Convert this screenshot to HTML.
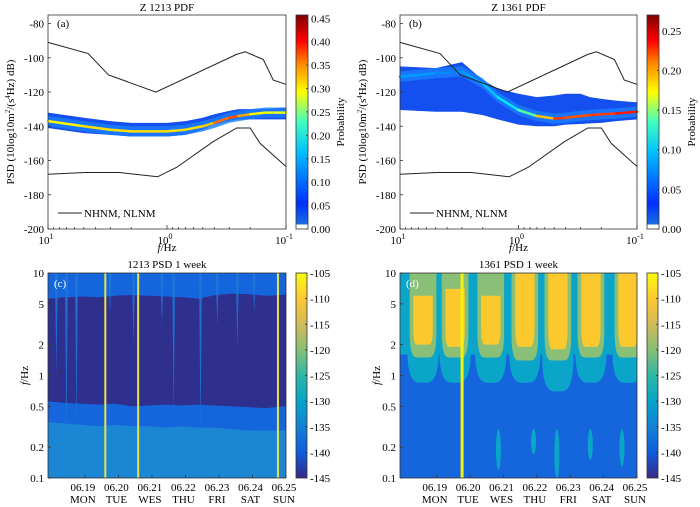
<!DOCTYPE html>
<html><head><meta charset="utf-8"><style>
html,body{margin:0;padding:0;background:#fff}
svg{display:block;font-family:"Liberation Serif",serif}
</style></head><body>
<svg id="fig" width="700" height="507" viewBox="0 0 700 507" xmlns="http://www.w3.org/2000/svg">
<defs>
<linearGradient id="jet" x1="0" y1="1" x2="0" y2="0">
<stop offset="0" stop-color="#ffffff"/><stop offset="0.02" stop-color="#ffffff"/><stop offset="0.021" stop-color="#1a6ee0"/>
<stop offset="0.12" stop-color="#0030ff"/><stop offset="0.36" stop-color="#00c0ff"/><stop offset="0.5" stop-color="#40ffbf"/>
<stop offset="0.64" stop-color="#ffff00"/><stop offset="0.78" stop-color="#ff8000"/><stop offset="0.88" stop-color="#ff0000"/><stop offset="1" stop-color="#800000"/>
</linearGradient>
<linearGradient id="parula" x1="0" y1="1" x2="0" y2="0">
<stop offset="0" stop-color="#352a87"/><stop offset="0.125" stop-color="#0f5cdd"/><stop offset="0.25" stop-color="#1481d6"/>
<stop offset="0.375" stop-color="#06a4ca"/><stop offset="0.5" stop-color="#2eb7a4"/><stop offset="0.625" stop-color="#87bf77"/>
<stop offset="0.75" stop-color="#d1bb59"/><stop offset="0.875" stop-color="#fec832"/><stop offset="1" stop-color="#f9fb0e"/>
</linearGradient>
</defs>
</svg>
<script>
// ---- data ----
const nhnmFreq = [10,4.6,3.1,1.24,0.26,0.22,0.155,0.128,0.1];
const nhnmDb   = [-91,-97.5,-110,-120,-98,-96.5,-101,-113,-115.5];
const nlnmFreq = [10,4.9,2.5,1.2,0.83,0.41,0.26,0.2,0.165,0.1];
const nlnmDb   = [-168,-167,-167,-169.5,-164,-149,-141,-141,-150,-163.5];
const pdfFreq  = [10,5,3,2,1.5,1,0.7,0.5,0.4,0.3,0.25,0.2,0.15,0.1];
const aTop  = [-132,-135,-137,-138,-138,-138,-137,-135,-133,-131,-130,-130,-130,-129];
const aBot  = [-141,-144,-145,-146,-146,-146,-145,-142,-139,-137,-136,-136,-136,-136];
const aMode = [-137,-140,-142,-143,-143,-143,-142,-140,-138,-135,-134,-133,-132,-132];
const aProb = [0.28,0.3,0.3,0.3,0.3,0.3,0.3,0.3,0.32,0.38,0.35,0.3,0.28,0.27];
const bTop  = [-105,-106,-102.5,-113,-118,-121,-123,-122,-121,-121,-123,-124,-125,-126];
const bBot  = [-130.5,-131.5,-131.5,-133.5,-136,-139,-140,-140,-139,-138.7,-138.3,-138,-137,-136];
const bMode = [-111,-109,-108,-115,-123,-130.5,-134,-135.5,-135,-134,-133.5,-133,-132.5,-131.5];
const bProb = [0.08,0.07,0.07,0.08,0.09,0.1,0.15,0.22,0.22,0.21,0.22,0.22,0.22,0.24];
const dayTicks = [19,20,21,22,23,24,25];
const dayLabels = ["06.19","06.20","06.21","06.22","06.23","06.24","06.25"];
const weekLabels = ["MON","TUE","WES","THU","FRI","SAT","SUN"];
const cTimes    = [17.9,18.4,18.9,19.4,19.9,20.4,20.9,21.4,21.9,22.4,22.9,23.4,23.9,24.4,24.9,25.0];
const cDarkTop  = [5.6,5.8,5.9,5.8,6.0,6.1,6.0,5.9,5.8,5.6,6.1,6.3,6.2,6.0,6.1,6.2];
const cDarkBot  = [0.56,0.54,0.53,0.52,0.53,0.50,0.51,0.52,0.51,0.52,0.51,0.50,0.49,0.48,0.50,0.50];
const cLightTop = [0.35,0.34,0.33,0.32,0.33,0.32,0.32,0.31,0.32,0.31,0.31,0.30,0.29,0.29,0.29,0.29];
const cLineTimes = [19.61,20.59,24.76];
const cSpikeTimes = [18.15,18.45,18.75,19.75,20.45,21.3,21.65,22.45,22.95,23.55,24.05];
const cSpikeBot   = [1.0,0.2,0.3,4,2,3,0.4,0.25,3,1.8,4];
const dCenters   = [18.59,19.55,20.62,21.64,22.63,23.62,24.73];
const dYellowTop = [6,7,6,10,10,10,10];
const dYellowBot = [2.0,1.9,2.0,1.9,1.8,1.9,1.9];
const dGreenBot  = [1.5,1.5,1.5,1.4,1.4,1.5,1.5];
const dCyanBot   = [0.85,0.85,0.85,0.85,0.7,0.85,0.85];
const dLineTimes = [19.76];
const dSpotTimes = [20.85,21.9,22.6,23.6,24.55];
const dSpotBot   = [0.12,0.17,0.1,0.15,0.13];

const svg = document.getElementById('fig');
const NS = 'http://www.w3.org/2000/svg';
function mk(tag, attrs, parent){
  const e = document.createElementNS(NS, tag);
  for (const k in attrs) e.setAttribute(k, attrs[k]);
  (parent||svg).appendChild(e); return e;
}
function txt(s, x, y, size, anchor, parent, extra){
  const e = mk('text', Object.assign({x:x, y:y, 'font-size':size, 'text-anchor':anchor||'middle', fill:'#000'}, extra||{}), parent);
  e.textContent = s; return e;
}

// ---- PDF panels ----
function pdfPanel(L, R, title, tag, top, bot, mode, prob, cmax, cticks, idp){
  const T=15, B=229;
  const g = mk('g', {});
  
  
  const X = f => L + (1 - Math.log10(f)) / 2 * (R - L);
  const Y = db => T + (-75 - db) / 125 * (B - T);
  const jet = v => { const t = Math.max(0, Math.min(1, v / cmax));
    const r = Math.max(0, Math.min(1, 1.5 - Math.abs(4*t - 3))), gg = Math.max(0, Math.min(1, 1.5 - Math.abs(4*t - 2))), b = Math.max(0, Math.min(1, 1.5 - Math.abs(4*t - 1)));
    return `rgb(${Math.round(r*255)},${Math.round(gg*255)},${Math.round(b*255)})`; };
  let p = pdfFreq.map((f,i)=>`${X(f)},${Y(top[i])}`).concat(pdfFreq.slice().reverse().map((f,j)=>{const i=pdfFreq.length-1-j; return `${X(f)},${Y(bot[i])}`;}));
  const band = mk('polygon', {points:p.join(' '), fill:'#1450f0'}, g);
  
  
  const mid = pdfFreq.map((f,i)=>`${X(f)},${Y(mode[i]-3)}`).concat(pdfFreq.slice().reverse().map((f,j)=>{const i=pdfFreq.length-1-j; return `${X(f)},${Y(mode[i]+3)}`;}));
  const m = mk('polygon', {points:mid.join(' '), fill:'#1a80ff', opacity:0.8}, g);
  
  
  for (let i=0;i<pdfFreq.length-1;i++){
    const s = mk('line', {x1:X(pdfFreq[i]), y1:Y(mode[i]), x2:X(pdfFreq[i+1]), y2:Y(mode[i+1]), stroke:jet((prob[i]+prob[i+1])/2), 'stroke-width':2.5, 'stroke-linecap':'round'}, g);
    
    
  }
  const hn = mk('polyline', {points:nhnmFreq.map((f,i)=>`${X(f)},${Y(nhnmDb[i])}`).join(' '), fill:'none', stroke:'#222', 'stroke-width':1}, g);
  
  
  const ln = mk('polyline', {points:nlnmFreq.map((f,i)=>`${X(f)},${Y(nlnmDb[i])}`).join(' '), fill:'none', stroke:'#222', 'stroke-width':1}, g);
  
  
  const fr = mk('rect', {x:L, y:T, width:R-L, height:B-T, fill:'none', stroke:'#333', 'stroke-width':0.8}, g);
  
  
  for (let v=-80; v>=-200; v-=20){
    mk('line',{x1:L,y1:Y(v),x2:L+3,y2:Y(v),stroke:'#333','stroke-width':0.8},g);
    const t = txt(String(v), L-4, Y(v)+4, 11, 'end', g);
    
    
  }
  for (let d=1; d>=-1; d--){
    for (let k=1;k<10;k++){ const fx = X(k*Math.pow(10,d)); if (d===1 && k>1) continue; if (fx<L-0.1||fx>R+0.1) continue;
      mk('line',{x1:fx,y1:B,x2:fx,y2:B-(k===1?4:2),stroke:'#333','stroke-width':0.8},g); }
  }
  [[1,L],[0,(L+R)/2],[-1,R]].forEach(([e,x])=>{
    const t = mk('text',{x:x-2,y:244,'font-size':11,'text-anchor':'middle'},g);
    t.innerHTML = `10<tspan font-size="8" dy="-5">${e}</tspan>`;
    
    
  });
  const xl = mk('text',{x:(L+R)/2,y:251,'font-size':11,'text-anchor':'middle'},g);
  xl.innerHTML = '<tspan font-style="italic">f</tspan>/Hz';
  
  
  const yl = mk('text',{x:0,y:0,'font-size':11,'text-anchor':'middle',transform:`translate(${L-34},122) rotate(-90)`},g);
  yl.innerHTML = 'PSD (10log10m<tspan font-size="7" dy="-4">2</tspan><tspan dy="4">/(s</tspan><tspan font-size="7" dy="-4">4</tspan><tspan dy="4">Hz) dB)</tspan>';
  
  
  const ti = txt(title, (L+R)/2, 11, 11, 'middle', g, {'xml:space':'preserve'});
  
  
  const tg = txt(tag, L+9, 27, 11, 'start', g);
  
  
  mk('line',{x1:L+10,y1:213,x2:L+34,y2:213,stroke:'#222','stroke-width':1},g);
  const lg = txt('NHNM, NLNM', L+36, 217, 11, 'start', g);
  
  
  const cx = R+10, cw = 12;
  const cb = mk('rect',{x:cx,y:T,width:cw,height:B-T,fill:'url(#jet)',stroke:'#333','stroke-width':0.8},g);
  
  
  const CY = v => B - v/cmax*(B-T);
  cticks.forEach(v=>{
    mk('line',{x1:cx+cw-2,y1:CY(v),x2:cx+cw,y2:CY(v),stroke:'#333','stroke-width':0.8},g);
    const t = txt(v.toFixed(2), cx+cw+3, CY(v)+4, 11, 'start', g);
    
    
  });
  const pl = txt('Probability', 0, 0, 11, 'middle', g, {transform:`translate(${cx+cw+36},122) rotate(-90)`});
  
  
}
pdfPanel(48, 286, 'Z  1213  PDF', '(a)', aTop, aBot, aMode, aProb, 0.457, [0,0.05,0.1,0.15,0.2,0.25,0.3,0.35,0.4,0.45], 'a');
pdfPanel(400, 637, 'Z  1361  PDF', '(b)', bTop, bBot, bMode, bProb, 0.27, [0,0.05,0.1,0.15,0.2,0.25], 'b');

// ---- weekly panels ----
const PAR = {'-145':'#2f2f8e','-140':'#1566dc','-135':'#1a86d4','-130':'#0aa5c8','-120':'#8abf78','-110':'#fbc82e','-105':'#f5f20f'};
function weekFrame(L, R, idp, title, tag, tagColor){
  const T=273, B=478;
  const g = mk('g',{});
  
  
  const clip = mk('clipPath',{id:'clip'+idp},g);
  mk('rect',{x:L,y:T,width:R-L,height:B-T},clip);
  const inner = mk('g',{'clip-path':`url(#clip${idp})`},g);
  const X = t => L + (t-17.9)/(25.0-17.9)*(R-L);
  const Y = f => B - (Math.log10(f)+1)/2*(B-T);
  return {g, inner, X, Y, L, R, T, B, finish(){
    const fr = mk('rect',{x:L,y:T,width:R-L,height:B-T,fill:'none',stroke:'#333','stroke-width':0.8},g);
    
    
    [10,5,2,1,0.5,0.2,0.1].forEach(f=>{
      mk('line',{x1:L,y1:Y(f),x2:L+3,y2:Y(f),stroke:'#333','stroke-width':0.8},g);
      const t = txt(String(f), L-4, Y(f)+4, 11, 'end', g);
      
      
    });
    dayTicks.forEach((d,i)=>{
      mk('line',{x1:X(d),y1:B,x2:X(d),y2:B-3,stroke:'#333','stroke-width':0.8},g);
      const a = txt(dayLabels[i], X(d)-2, 491, 11, 'middle', g);
      
      
      const b = txt(weekLabels[i], X(d)-2, 503, 11, 'middle', g);
      
      
    });
    const yl = mk('text',{x:0,y:0,'font-size':11,'text-anchor':'middle',transform:`translate(${L-20},${Y(1)}) rotate(-90)`},g);
    yl.innerHTML = '<tspan font-style="italic">f</tspan>/Hz';
    
    
    const ti = txt(title, (L+R)/2, 268, 11, 'middle', g, {'xml:space':'preserve'});
    
    
    const tg = txt(tag, L+6, T+14, 11, 'start', g, {fill:tagColor});
    
    
    const cx = R+10, cw = 11;
    const cb = mk('rect',{x:cx,y:T,width:cw,height:B-T,fill:'url(#parula)',stroke:'#333','stroke-width':0.8},g);
    
    
    for (let v=-105; v>=-145; v-=5){
      const cy = T + (-105 - v)/40*(B-T);
      mk('line',{x1:cx+cw-2,y1:cy,x2:cx+cw,y2:cy,stroke:'#333','stroke-width':0.8},g);
      const t = txt(String(v), cx+cw+3, cy+4, 11, 'start', g);
      
      
    }
  }};
}
// panel c
(function(){
  const P = weekFrame(48, 286, 'c', '1213  PSD 1 week', '(c)', '#fff');
  const {inner, X, Y, L, R, T, B} = P;
  mk('rect',{x:L,y:T,width:R-L,height:B-T,fill:PAR['-140']},inner);
  const lt = cTimes.map((t,i)=>`${X(t)},${Y(cLightTop[i])}`);
  const lp = mk('polygon',{points:[`${L},${B}`].concat(lt,[`${R},${B}`]).join(' '),fill:PAR['-135']},inner);
  
  
  const dp = mk('polygon',{points:cTimes.map((t,i)=>`${X(t)},${Y(cDarkTop[i])}`).concat(cTimes.slice().reverse().map((t,j)=>{const i=cTimes.length-1-j;return `${X(t)},${Y(cDarkBot[i])}`;})).join(' '),fill:PAR['-145']},inner);
  
  
  cSpikeTimes.forEach((t,i)=>{
    const s = mk('path',{d:`M${X(t)-1.5},${T} L${X(t)+1.5},${T} L${X(t)},${Y(cSpikeBot[i])} Z`,fill:'#1e7ad8',opacity:0.8},inner);
    
    
  });
  cLineTimes.forEach(t=>{
    const s = mk('line',{x1:X(t),y1:T,x2:X(t),y2:B,stroke:'#e6e34a','stroke-width':2},inner);
    
    
  });
  P.finish();
})();
// panel d
(function(){
  const P = weekFrame(400, 637, 'd', '1361  PSD 1 week', '(d)', '#fff');
  const {inner, X, Y, L, R, T, B} = P;
  mk('rect',{x:L,y:T,width:R-L,height:B-T,fill:PAR['-140']},inner);
  const bg = mk('rect',{x:L,y:T,width:R-L,height:Y(1.6)-T,fill:PAR['-130']},inner);
  
  
  function blob(c, hw, fTop, fBot, fill, name, taper){
    const x0=X(c-hw), x1=X(c+hw), xc=X(c), yt=Y(fTop), yb=Y(fBot);
    const ym = yt + (yb-yt)*0.7, bw = (x1-x0)/2*taper;
    const e = mk('path',{d:`M${x0},${yt} L${x1},${yt} L${x1},${ym} Q${x1},${yb} ${xc+bw},${yb} L${xc-bw},${yb} Q${x0},${yb} ${x0},${ym} Z`,fill:fill},inner);
    
    
  }
  dCenters.forEach((c,i)=>{
    blob(c, 0.47, 10, dCyanBot[i], PAR['-130'], 'day-blob-cyan', 0.25);
    blob(c, 0.40, 10, dGreenBot[i], PAR['-120'], 'day-blob-green', 0.5);
    blob(c, 0.29, dYellowTop[i], dYellowBot[i], PAR['-110'], 'day-blob-yellow', 0.6);
  });
  dSpotTimes.forEach((t,i)=>{
    const e = mk('ellipse',{cx:X(t),cy:(Y(0.3)+Y(dSpotBot[i]))/2,rx:2.5,ry:(Y(dSpotBot[i])-Y(0.3))/2,fill:PAR['-130']},inner);
    
    
  });
  dLineTimes.forEach(t=>{
    const s = mk('line',{x1:X(t),y1:T,x2:X(t),y2:B,stroke:PAR['-105'],'stroke-width':3},inner);
    
    
  });
  P.finish();
})();
</script>
</body></html>
